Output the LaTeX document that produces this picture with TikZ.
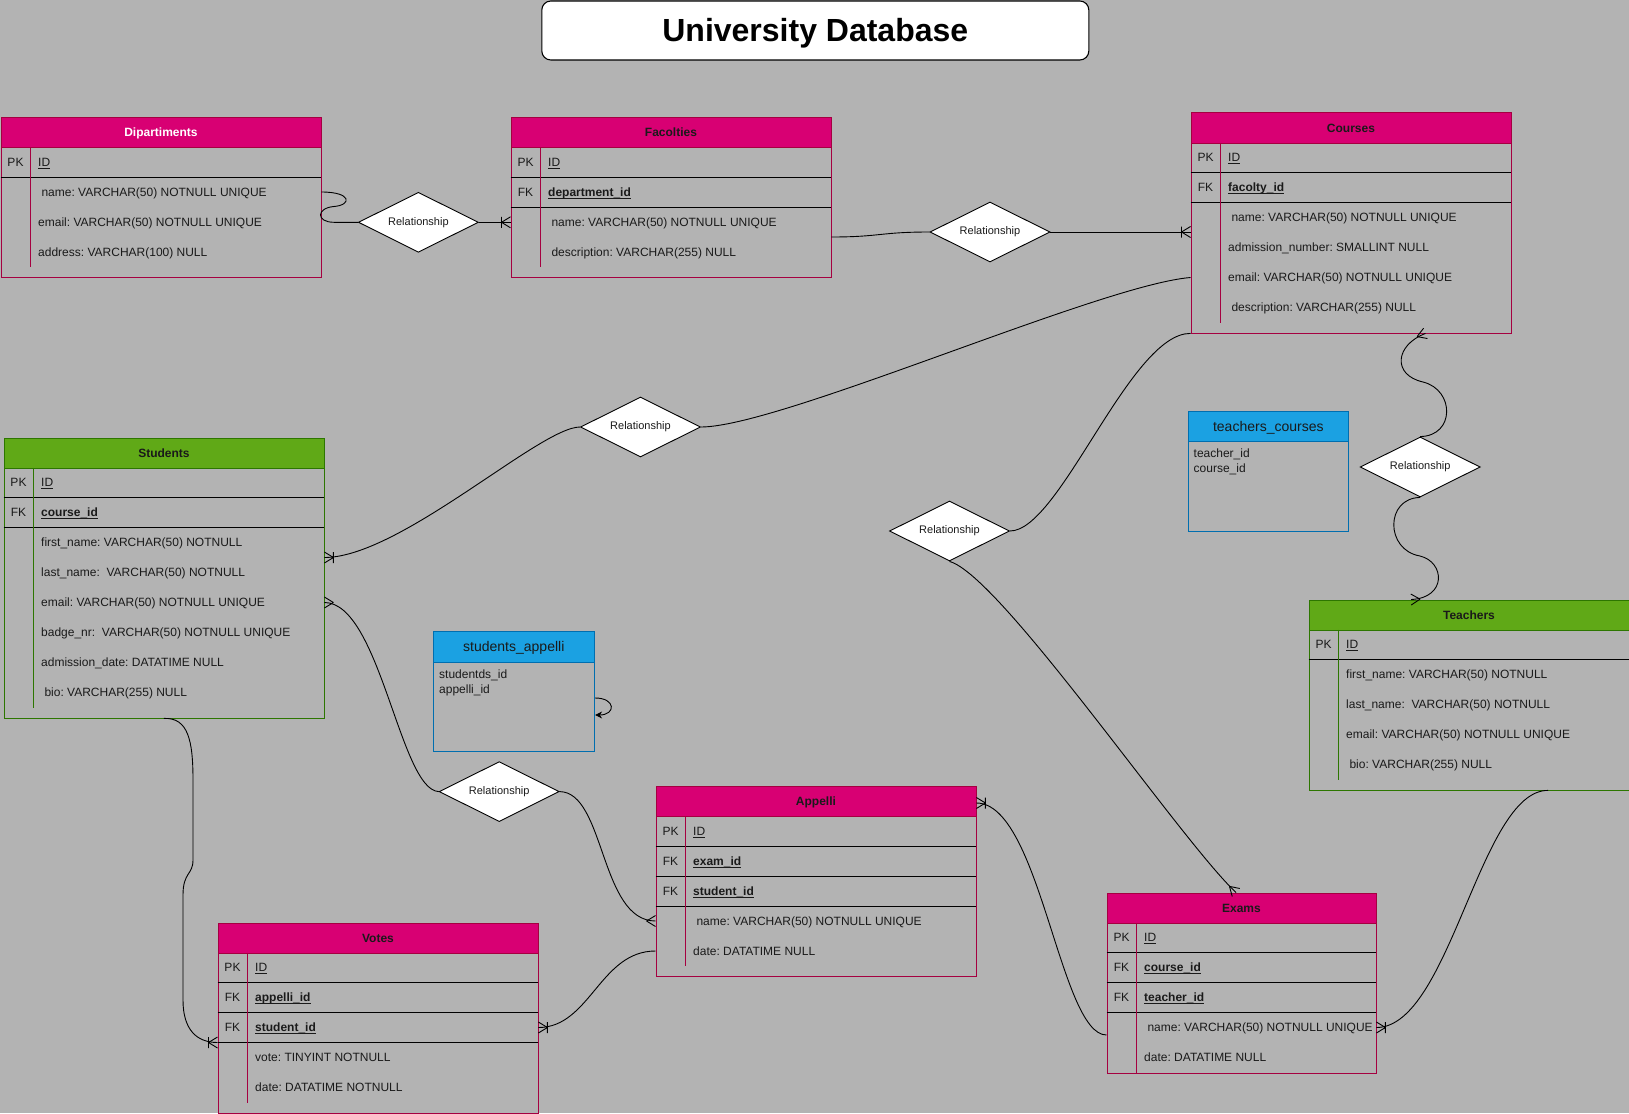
\documentclass[tikz,border=0pt]{standalone}
\usepackage{fontspec}
\setmainfont{Liberation Sans}
\usetikzlibrary{shapes.geometric,calc,arrows.meta}
\frenchspacing

\definecolor{bg}{RGB}{179,179,179}
\definecolor{pinkF}{HTML}{D80073}
\definecolor{pinkS}{HTML}{A50040}
\definecolor{greenF}{HTML}{60A917}
\definecolor{greenS}{HTML}{2D7600}
\definecolor{blueF}{HTML}{1BA1E2}
\definecolor{blueS}{HTML}{006EAF}
\definecolor{txt}{HTML}{1A1A1A}

\newcommand{\keyul}[1]{\setbox0=\hbox{#1}\rlap{\rule[-2.2pt]{\wd0}{0.9pt}}\box0}

\pgfdeclarearrow{
  name = crowmany,
  setup code = {
    \pgfarrowssettipend{0pt}
    \pgfarrowssetlineend{0pt}
    \pgfarrowssetbackend{-9pt}
  },
  drawing code = {
    \pgfsetdash{}{0pt}
    \pgfpathmoveto{\pgfqpoint{-9pt}{0pt}}
    \pgfpathlineto{\pgfqpoint{0pt}{5.5pt}}
    \pgfpathmoveto{\pgfqpoint{-9pt}{0pt}}
    \pgfpathlineto{\pgfqpoint{0pt}{-5.5pt}}
    \pgfusepathqstroke
  }
}
\pgfdeclarearrow{
  name = crowonemany,
  setup code = {
    \pgfarrowssettipend{0pt}
    \pgfarrowssetlineend{0pt}
    \pgfarrowssetbackend{-9pt}
  },
  drawing code = {
    \pgfsetdash{}{0pt}
    \pgfpathmoveto{\pgfqpoint{-9pt}{0pt}}
    \pgfpathlineto{\pgfqpoint{0pt}{5.5pt}}
    \pgfpathmoveto{\pgfqpoint{-9pt}{0pt}}
    \pgfpathlineto{\pgfqpoint{0pt}{-5.5pt}}
    \pgfpathmoveto{\pgfqpoint{-9pt}{-5.5pt}}
    \pgfpathlineto{\pgfqpoint{-9pt}{5.5pt}}
    \pgfusepathqstroke
  }
}

\tikzset{
  tbox/.style={rectangle, draw=#1S, line width=0.9pt, anchor=north west, inner sep=0pt},
  hdr/.style={rectangle, draw=#1S, fill=#1F, line width=0.9pt, anchor=north west, inner sep=0pt,
    minimum height=30pt, font=\fontsize{12}{14}\selectfont\bfseries, text height=10pt, text depth=1.4pt},
  keylab/.style={inner sep=0pt, font=\fontsize{12}{14}\selectfont, text=txt, text height=10pt, text depth=1.4pt},
  keyname/.style={keylab, anchor=west},
  fieldtxt/.style={keylab, anchor=west},
  rowline/.style={draw=black, line width=0.9pt},
  divider/.style={draw=#1S, line width=0.9pt},
  bbox/.style={rectangle, draw=blueS, line width=1.6pt, anchor=north west, inner sep=0pt},
  bhdr/.style={rectangle, draw=blueS, fill=blueF, line width=1.6pt, anchor=north west, inner sep=0pt,
    font=\fontsize{14}{16}\selectfont, text=txt, text height=11.5pt, text depth=1.5pt},
  rel/.style={diamond, aspect=2, draw=black, fill=white, line width=0.9pt, minimum width=120pt,
    minimum height=60pt, inner sep=0pt, font=\fontsize{11}{13}\selectfont, text=txt},
  conn/.style={draw=black, line width=0.9pt},
  many/.style={-{crowmany}},
  onemany/.style={-{crowonemany}},
}

% id, x, y, w, h, colour, title, title colour
\newcommand{\ertable}[8]{%
  \node[tbox=#6, minimum width=#4pt, minimum height=#5pt] (#1) at (#2,#3) {};
  \node[hdr=#6, minimum width=#4pt, text=#8] (#1-h) at (#1.north west) {#7};
}
% id, list of label/name
\newcommand{\erkeys}[2]{%
  \foreach \klab/\kname [count=\ki] in {#2} {
    \node[keylab] (#1-k\ki) at ($(#1.north west)+(15,15+30*\ki)$) {\klab};
    \node[keyname] (#1-n\ki) at ($(#1.north west)+(37.5,15+30*\ki)$) {\kname};
    \draw[rowline] ($(#1.north west)+(0,30+30*\ki)$) -- ($(#1.north east)+(0,30+30*\ki)$);
  }
}
% id, nkeys, nfields, colour, list
\newcommand{\erfields}[5]{%
  \draw[divider=#4] ($(#1.north west)+(30,30)$) -- ($(#1.north west)+(30,30+30*#2+30*#3)$);
  \foreach \ftext [count=\fj] in {#5} {
    \node[fieldtxt] (#1-f\fj) at ($(#1.north west)+(37.5,15+30*#2+30*\fj)$) {\ftext};
  }
}

\begin{document}
\begin{tikzpicture}[x=1pt, y=-1pt]
\useasboundingbox (0,0) rectangle (1629,1113);
\fill[bg] (0,0) rectangle (1629,1113);

% title
\node[draw=black, fill=white, rounded corners=9pt, line width=1.1pt, minimum width=547pt,
  minimum height=59pt, inner sep=0pt, font=\fontsize{32}{38}\selectfont\bfseries, text=black,
  text height=23pt, text depth=0pt]
  (title) at (815.3,30.5) {University Database};

% ---- tables ----
\ertable{dip}{0.5}{117}{320}{160}{pink}{Dipartiments}{white}
\erkeys{dip}{PK/\keyul{ID}}
\erfields{dip}{1}{3}{pink}{\ name: VARCHAR(50) NOTNULL UNIQUE, email: VARCHAR(50) NOTNULL UNIQUE, address: VARCHAR(100) NULL}

\ertable{fac}{510.5}{117}{320}{160}{pink}{Facolties}{txt}
\erkeys{fac}{PK/\keyul{ID}, FK/\keyul{\textbf{department\_id}}}
\erfields{fac}{2}{2}{pink}{\ name: VARCHAR(50) NOTNULL UNIQUE, \ description: VARCHAR(255) NULL}

\ertable{crs}{1190.5}{112.5}{320}{220}{pink}{Courses}{txt}
\erkeys{crs}{PK/\keyul{ID}, FK/\keyul{\textbf{facolty\_id}}}
\erfields{crs}{2}{4}{pink}{\ name: VARCHAR(50) NOTNULL UNIQUE, admission\_number: SMALLINT NULL, email: VARCHAR(50) NOTNULL UNIQUE, \ description: VARCHAR(255) NULL}

\ertable{stu}{3.5}{437.5}{320}{280}{green}{Students}{txt}
\erkeys{stu}{PK/\keyul{ID}, FK/\keyul{\textbf{course\_id}}}
\erfields{stu}{2}{6}{green}{first\_name: VARCHAR(50) NOTNULL, last\_name:\ \ VARCHAR(50) NOTNULL, email: VARCHAR(50) NOTNULL UNIQUE, badge\_nr:\ \ VARCHAR(50) NOTNULL UNIQUE, admission\_date: DATATIME NULL, \ bio: VARCHAR(255) NULL}

\ertable{tea}{1308.5}{599.5}{320}{190}{green}{Teachers}{txt}
\erkeys{tea}{PK/\keyul{ID}}
\erfields{tea}{1}{4}{green}{first\_name: VARCHAR(50) NOTNULL, last\_name:\ \ VARCHAR(50) NOTNULL, email: VARCHAR(50) NOTNULL UNIQUE, \ bio: VARCHAR(255) NULL}

\ertable{app}{655.5}{786}{320}{190}{pink}{Appelli}{txt}
\erkeys{app}{PK/\keyul{ID}, FK/\keyul{\textbf{exam\_id}}, FK/\keyul{\textbf{student\_id}}}
\erfields{app}{3}{2}{pink}{\ name: VARCHAR(50) NOTNULL UNIQUE, date: DATATIME NULL}

\ertable{vot}{217.5}{922.5}{320}{190}{pink}{Votes}{txt}
\erkeys{vot}{PK/\keyul{ID}, FK/\keyul{\textbf{appelli\_id}}, FK/\keyul{\textbf{student\_id}}}
\erfields{vot}{3}{2}{pink}{vote: TINYINT NOTNULL, date: DATATIME NOTNULL}

\ertable{exm}{1106.5}{892.5}{269}{180}{pink}{Exams}{txt}
\erkeys{exm}{PK/\keyul{ID}, FK/\keyul{\textbf{course\_id}}, FK/\keyul{\textbf{teacher\_id}}}
\erfields{exm}{3}{2}{pink}{\ name: VARCHAR(50) NOTNULL UNIQUE, date: DATATIME NULL}

% blue link tables
\node[bbox, minimum width=161pt, minimum height=120pt] (sap) at (432.5,630.5) {};
\node[bhdr, minimum width=161pt, minimum height=31pt] (sap-h) at (sap.north west) {students\_appelli};
\node[fieldtxt] (sap-f1) at (439,674.3) {studentds\_id};
\node[fieldtxt] (sap-f2) at (439,689) {appelli\_id};

\node[bbox, minimum width=160pt, minimum height=120pt] (tcs) at (1187.5,410.5) {};
\node[bhdr, minimum width=160pt, minimum height=30pt] (tcs-h) at (tcs.north west) {teachers\_courses};
\node[fieldtxt] (tcs-f1) at (1193.5,453.3) {teacher\_id};
\node[fieldtxt] (tcs-f2) at (1193.5,468) {course\_id};

% ---- relationships ----
\node[rel] (r1) at (418.4,222.3) {Relationship};
\node[rel] (r2) at (990,232) {Relationship};
\node[rel] (r3) at (640.5,427) {Relationship};
\node[rel] (r4) at (949.5,531) {Relationship};
\node[rel] (r5) at (1420.2,467) {Relationship};
\node[rel] (r6) at (499.2,791.6) {Relationship};

% ---- connector end points ----
\coordinate (facR) at ($(fac.north east)+(0,120)$);
\coordinate (crsL) at ($(crs.north west)+(0,165)$);
\coordinate (crsB) at ($(crs.south west)+(235,0)$);
\coordinate (stuR1) at ($(stu.north east)+(0,120)$);
\coordinate (exmT) at ($(exm.north west)+(129.5,0)$);
\coordinate (exmL) at ($(exm.north west)+(0,142.5)$);
\coordinate (teaT) at ($(tea.north west)+(102.5,0)$);
\coordinate (teaB) at ($(tea.south west)+(239.5,0)$);
\coordinate (appR) at ($(app.north east)+(0,17)$);
\coordinate (votL) at ($(vot.north west)+(0,120)$);
\coordinate (sapR1) at ($(sap.north east)+(0,67.5)$);
\coordinate (sapR2) at ($(sap.north east)+(0,84.5)$);

% ---- connectors ----
\draw[conn] (dip.east |- dip-f1) .. controls (352,192) and (352,205) .. (334,206.5)
  .. controls (316,208) and (316,222.3) .. (334,222.3) -- (r1.west);
\draw[conn, onemany] (r1.east) -- (fac.west |- r1);
\draw[conn] (facR) .. controls (880,237) and (880,232) .. (r2.west);
\draw[conn, onemany] (r2.east) -- (crs.west |- r2);
\draw[conn] (crsL) .. controls (1100,285) and (780,427) .. (r3.east);
\draw[conn, onemany] (r3.west) .. controls (540,427) and (400,557.5) .. (stuR1);
\draw[conn] (crs.south west) .. controls (1130,333) and (1060,531) .. (r4.east);
\draw[conn, many] (r4.south) .. controls (1000,575) and (1180,840) .. (exmT);
\draw[conn, many] (r5.north) .. controls (1455,436) and (1455,390) .. (1423,382)
  .. controls (1392,375) and (1395,345) .. (crsB);
\draw[conn, many] (r5.south) .. controls (1385,498) and (1385,550) .. (1420,556)
  .. controls (1445,562) and (1447,598) .. (teaT);
\draw[conn, many] (r6.west) .. controls (400,790) and (380,602.5) .. (stu.east |- stu-f3);
\draw[conn, many] (r6.east) .. controls (605,792) and (600,921) .. (app.west |- app-f1);
\draw[conn, onemany] (app.west |- app-f2) .. controls (600,951) and (590,1027.5) .. (vot.east |- vot-n3);
\draw[conn, onemany] (stu.south) .. controls (188,717.5) and (193,740) .. (193,780) -- (193,860)
  .. controls (193,875) and (183,872) .. (183,895) -- (183,1000)
  .. controls (183,1030) and (197,1042.5) .. (votL);
\draw[conn, onemany] (exmL) .. controls (1060,1035) and (1040,803) .. (appR);
\draw[conn, onemany] (teaB) .. controls (1480,790) and (1450,1027.5) .. (exm.east |- exm-f1);
\draw[conn, -{Stealth[length=7pt,width=7pt]}] (sapR1) .. controls (616,698) and (616,715) .. (sapR2);

\end{tikzpicture}
\end{document}
